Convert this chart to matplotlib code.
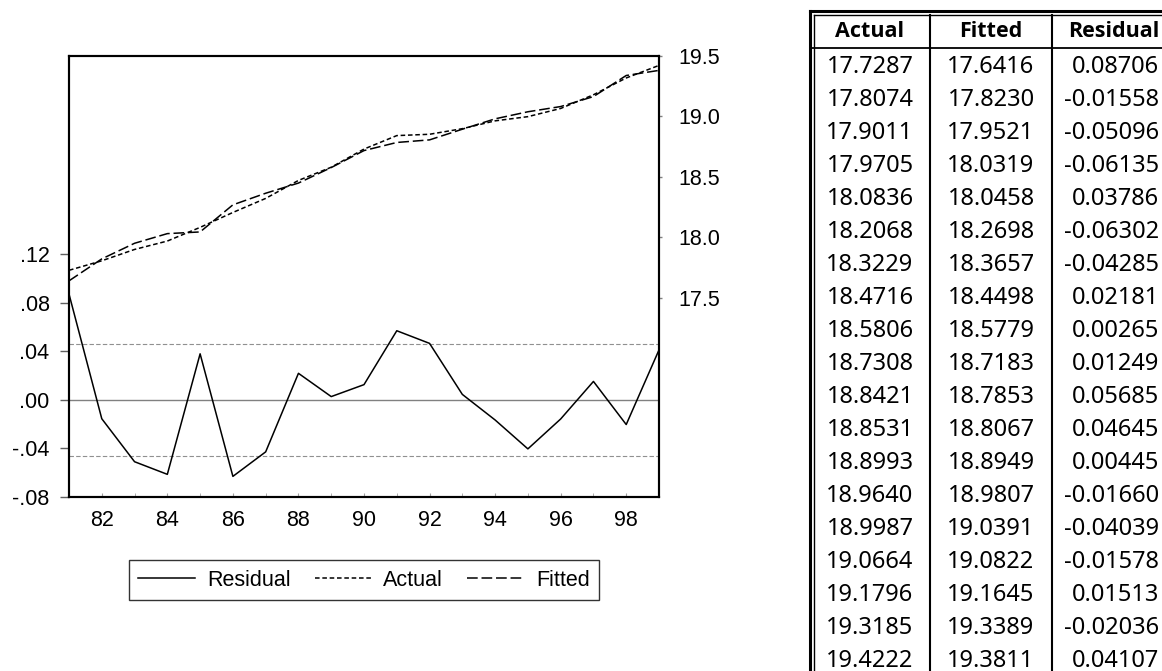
import matplotlib
matplotlib.use("Agg")
import matplotlib.pyplot as plt
from matplotlib.lines import Line2D
from matplotlib.ticker import FuncFormatter, MultipleLocator

# data (1981-1999)
years = [1981, 1982, 1983, 1984, 1985, 1986, 1987, 1988, 1989, 1990,
         1991, 1992, 1993, 1994, 1995, 1996, 1997, 1998, 1999]
actual = [17.7287, 17.8074, 17.9011, 17.9705, 18.0836, 18.2068, 18.3229,
          18.4716, 18.5806, 18.7308, 18.8421, 18.8531, 18.8993, 18.9640,
          18.9987, 19.0664, 19.1796, 19.3185, 19.4222]
fitted = [17.6416, 17.8230, 17.9521, 18.0319, 18.0458, 18.2698, 18.3657,
          18.4498, 18.5779, 18.7183, 18.7853, 18.8067, 18.8949, 18.9807,
          19.0391, 19.0822, 19.1645, 19.3389, 19.3811]
residual = [0.08706, -0.01558, -0.05096, -0.06135, 0.03786, -0.06302,
            -0.04285, 0.02181, 0.00265, 0.01249, 0.05685, 0.04645, 0.00445,
            -0.01660, -0.04039, -0.01578, 0.01513, -0.02036, 0.04107]
band = 0.046  # +/- one S.E. band

left_ticks = [-0.08, -0.04, 0.00, 0.04, 0.08, 0.12]
right_ticks = [17.5, 18.0, 18.5, 19.0, 19.5]
headers = ["Actual", "Fitted", "Residual"]

W, H = 1162, 671
plt.rcParams["font.family"] = ["Liberation Sans", "DejaVu Sans"]
fig = plt.figure(figsize=(W / 100, H / 100), dpi=100)

# ---- chart ----
ax = fig.add_axes([69 / W, 1 - 497 / H, 590 / W, 441 / H])
ax2 = ax.twinx()

ax.axhline(0, color="#808080", lw=1.0, zorder=1)
ax.axhline(band, color="#909090", lw=0.8, ls=(0, (4, 2)), zorder=1)
ax.axhline(-band, color="#909090", lw=0.8, ls=(0, (4, 2)), zorder=1)
ax.plot(years, residual, color="black", lw=1.1, zorder=3)

ax2.plot(years, actual, color="black", lw=1.1, ls=(0, (3, 1.8)))
ax2.plot(years, fitted, color="black", lw=1.1, ls=(0, (7, 2.5)))

ax.set_xlim(1981, 1999)
ax.set_ylim(-0.08, 0.283)
ax2.set_ylim(15.855, 19.5)

ax.set_yticks(left_ticks)
ax.yaxis.set_major_formatter(FuncFormatter(
    lambda v, p: f"{v:.2f}".replace("0.", ".")))
ax2.set_yticks(right_ticks)
ax2.yaxis.set_major_formatter(FuncFormatter(lambda v, p: f"{v:.1f}"))

ax.xaxis.set_minor_locator(MultipleLocator(1))
ax.set_xticks([y for y in years if y % 2 == 0])
ax.xaxis.set_major_formatter(FuncFormatter(lambda v, p: f"{int(v) % 100:02d}"))

ax.tick_params(axis="x", which="both", direction="in", length=3,
               color="#a0a0a0", labelsize=15.5, pad=9)
ax.tick_params(axis="y", direction="out", length=6.5, width=1,
               color="#606060", labelsize=15.5, pad=7.5)
ax2.tick_params(axis="y", direction="out", length=2, width=1,
                color="#808080", labelsize=15.5, pad=12)

for a in (ax, ax2):
    for s in a.spines.values():
        s.set_linewidth(1.5)
        s.set_color("black")

handles = [
    Line2D([], [], color="black", lw=1.1),
    Line2D([], [], color="black", lw=1.1, ls=(0, (3, 1.8))),
    Line2D([], [], color="black", lw=1.1, ls=(0, (7, 2.5))),
]
leg = fig.legend(handles, ["Residual", "Actual", "Fitted"], ncol=3,
                 loc="center", bbox_to_anchor=(364 / W, 1 - 580 / H),
                 fontsize=15.5, frameon=True, fancybox=False,
                 handlelength=2.65, handletextpad=0.55, columnspacing=1.1,
                 borderpad=0.45, borderaxespad=0)
leg.get_frame().set_edgecolor("black")
leg.get_frame().set_linewidth(1.0)

# ---- table ----
tb = fig.add_axes([0, 0, 1, 1])
tb.set_xlim(0, W)
tb.set_ylim(H, 0)
tb.axis("off")

top, head_bottom = 11, 48
col_left, col_sep1, col_sep2, col_right = 810, 930, 1052, W
row_h, first_row = 33, 67

tb.plot([col_left, col_left], [top, H], color="black", lw=2.2)
tb.plot([col_left + 3.5, col_left + 3.5], [top + 3.5, H], color="black", lw=1.0)
tb.plot([col_left, col_right], [top, top], color="black", lw=2.2)
tb.plot([col_left + 3.5, col_right], [top + 3.5, top + 3.5], color="black", lw=1.0)
tb.plot([col_left, col_right], [head_bottom, head_bottom], color="black", lw=1.3)
for xs in (col_sep1, col_sep2):
    tb.plot([xs, xs], [top + 3.5, H], color="black", lw=1.5)

tfont = ["Noto Sans", "DejaVu Sans"]
hfont = ["Open Sans", "DejaVu Sans"]
hy = (top + head_bottom) / 2 + 2
tb.text((col_left + col_sep1) / 2, hy, headers[0], ha="center", va="center",
        fontsize=15.5, fontweight="bold", family=hfont)
tb.text((col_sep1 + col_sep2) / 2, hy, headers[1], ha="center", va="center",
        fontsize=15.5, fontweight="bold", family=hfont)
tb.text(1159, hy, headers[2], ha="right", va="center",
        fontsize=15.5, fontweight="bold", family=hfont)

for i, (a, f, r) in enumerate(zip(actual, fitted, residual)):
    y = first_row + i * row_h
    tb.text((col_left + col_sep1) / 2, y, f"{a:.4f}", ha="center", va="center",
            fontsize=17, family=tfont)
    tb.text((col_sep1 + col_sep2) / 2, y, f"{f:.4f}", ha="center", va="center",
            fontsize=17, family=tfont)
    tb.text(1159, y, f"{r:.5f}", ha="right", va="center",
            fontsize=17, family=tfont)

fig.savefig("out.png", dpi=100)
